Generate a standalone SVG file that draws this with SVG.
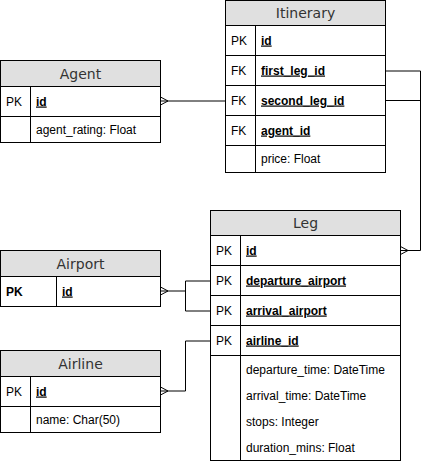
<svg xmlns="http://www.w3.org/2000/svg" width="429" height="464" viewBox="0 0 429 464">
<style>
.box{fill:#ffffff;stroke:#000000;stroke-width:1}
.hdr{fill:#e0e0e0;stroke:#000000;stroke-width:1}
.ln{stroke:#000000;stroke-width:1;fill:none}
.title{font-family:"DejaVu Sans",sans-serif;font-size:14px;fill:#333333;text-anchor:middle}
.t{font-family:"Liberation Sans",Arial,sans-serif;font-size:12px;fill:#000000}
.k{font-family:"Liberation Sans",Arial,sans-serif;font-size:12px;font-weight:bold;text-decoration:underline;fill:#000000}
.pkb{font-family:"Liberation Sans",Arial,sans-serif;font-size:12px;font-weight:bold;fill:#000000}
.crow{stroke:#000000;stroke-width:1;fill:none}
</style>
<rect width="429" height="464" fill="#ffffff"/>
<g id="connectors">
<path class="ln" d="M160.5 101 H225.5"/>
<path class="crow" d="M160.5 97 L168 101 L160.5 105"/>
<path class="ln" d="M385.5 71 H420.5 V250.5 H400.5"/>
<path class="ln" d="M385.5 100.5 H420.5"/>
<path class="crow" d="M400.5 246.5 L408 250.5 L400.5 254.5"/>
<path class="ln" d="M160.5 291 H185.5 M185.5 281 V311 M185.5 281 H210.5 M185.5 311 H210.5"/>
<path class="crow" d="M160.5 287 L168 291 L160.5 295"/>
<path class="ln" d="M160.5 391 H185.5 V341 H210.5"/>
<path class="crow" d="M160.5 387 L168 391 L160.5 395"/>
</g>
<g id="itinerary">
<rect class="box" x="225.5" y="0.5" width="160" height="172"/>
<rect class="hdr" x="225.5" y="0.5" width="160" height="25"/>
<text class="title" x="305.5" y="18">Itinerary</text>
<path class="ln" d="M225.5 55.5 H385.5 M225.5 85.5 H385.5 M225.5 115.5 H385.5 M225.5 145.5 H385.5 M255.5 25.5 V172.5"/>
<text class="t" x="231" y="44.5">PK</text><text class="k" x="261" y="44.5">id</text>
<text class="t" x="231" y="74.5">FK</text><text class="k" x="261" y="74.5">first_leg_id</text>
<text class="t" x="231" y="104.5">FK</text><text class="k" x="261" y="104.5">second_leg_id</text>
<text class="t" x="231" y="134.5">FK</text><text class="k" x="261" y="134.5">agent_id</text>
<text class="t" x="261" y="163">price: Float</text>
</g>
<g id="agent">
<rect class="box" x="0.5" y="60.5" width="160" height="82"/>
<rect class="hdr" x="0.5" y="60.5" width="160" height="26"/>
<text class="title" x="80.5" y="79">Agent</text>
<path class="ln" d="M0.5 116.5 H160.5 M30.5 86.5 V142.5"/>
<text class="t" x="6" y="105.5">PK</text><text class="k" x="36" y="105.5">id</text>
<text class="t" x="36" y="133.5">agent_rating: Float</text>
</g>
<g id="leg">
<rect class="box" x="210.5" y="210.5" width="190" height="250"/>
<rect class="hdr" x="210.5" y="210.5" width="190" height="25"/>
<text class="title" x="305.5" y="228">Leg</text>
<path class="ln" d="M210.5 265.5 H400.5 M210.5 295.5 H400.5 M210.5 325.5 H400.5 M210.5 355.5 H400.5 M240.5 235.5 V460.5"/>
<text class="t" x="216" y="254.5">PK</text><text class="k" x="246" y="254.5">id</text>
<text class="t" x="216" y="284.5">PK</text><text class="k" x="246" y="284.5">departure_airport</text>
<text class="t" x="216" y="314.5">PK</text><text class="k" x="246" y="314.5">arrival_airport</text>
<text class="t" x="216" y="344.5">PK</text><text class="k" x="246" y="344.5">airline_id</text>
<text class="t" x="246" y="373.5">departure_time: DateTime</text>
<text class="t" x="246" y="399.5">arrival_time: DateTime</text>
<text class="t" x="246" y="425.5">stops: Integer</text>
<text class="t" x="246" y="452">duration_mins: Float</text>
</g>
<g id="airport">
<rect class="box" x="0.5" y="250.5" width="160" height="56"/>
<rect class="hdr" x="0.5" y="250.5" width="160" height="26"/>
<text class="title" x="80.5" y="269">Airport</text>
<path class="ln" d="M56.5 276.5 V306.5"/>
<text class="pkb" x="6" y="295.5">PK</text><text class="k" x="62" y="295.5">id</text>
</g>
<g id="airline">
<rect class="box" x="0.5" y="350.5" width="160" height="82"/>
<rect class="hdr" x="0.5" y="350.5" width="160" height="26"/>
<text class="title" x="80.5" y="369">Airline</text>
<path class="ln" d="M0.5 406.5 H160.5 M30.5 376.5 V432.5"/>
<text class="t" x="6" y="395.5">PK</text><text class="k" x="36" y="395.5">id</text>
<text class="t" x="36" y="423.5">name: Char(50)</text>
</g>
</svg>
